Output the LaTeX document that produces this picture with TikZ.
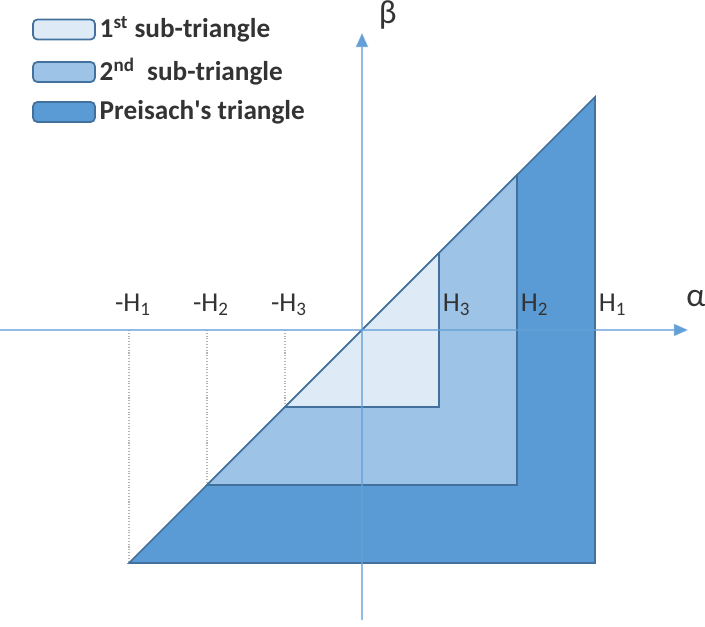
\documentclass[tikz,border=0pt]{standalone}
\usepackage{fontspec}
\setmainfont{Carlito}
\definecolor{tridark}{RGB}{91,155,213}
\definecolor{trimid}{RGB}{157,195,230}
\definecolor{trilight}{RGB}{222,235,247}
\definecolor{triedge}{RGB}{65,113,156}
\definecolor{axisblue}{RGB}{100,160,215}
\usetikzlibrary{arrows.meta,positioning}

\begin{document}
\begin{tikzpicture}[
  legbox/.style={draw=triedge, line width=1pt, rounded corners=2.5pt, minimum width=1.24cm, minimum height=0.4cm, inner sep=0pt},
  legtext/.style={font=\fontsize{15.5}{17}\selectfont\bfseries, text=black!80, anchor=west, inner sep=1pt},
  axlabel/.style={font=\fontsize{15.5}{17}\selectfont, text=black!80, inner sep=0pt},
  greeklabel/.style={font=\fontsize{19}{21}\selectfont, text=black!80, inner sep=0pt},
  tri/.style={draw=triedge, line width=0.9pt, line join=miter},
  axisline/.style={draw=axisblue, draw opacity=0.7, line width=0.6pt, -{Triangle[length=8pt,width=7pt]}},
  guide/.style={draw=gray!60, densely dotted, line width=0.6pt}]
  \useasboundingbox (-7.24,-5.94) rectangle (6.86,6.6);
  \def\hone{4.66}
  \def\htwo{3.1}
  \def\hthree{1.54}
  % dotted guides from the alpha axis
  \foreach \h/\k in {\hone/1,\htwo/2,\hthree/3} {
    \coordinate (gt\k) at (-\h,0);
    \coordinate (gb\k) at (-\h,-\h);
    \draw[guide] (gt\k) -- (gb\k);
  }
  % triangles, largest first
  \filldraw[tri, fill=tridark] (-\hone,-\hone) -- (\hone,\hone) -- (\hone,-\hone) -- cycle;
  \filldraw[tri, fill=trimid] (-\htwo,-\htwo) -- (\htwo,\htwo) -- (\htwo,-\htwo) -- cycle;
  \filldraw[tri, fill=trilight] (-\hthree,-\hthree) -- (\hthree,\hthree) -- (\hthree,-\hthree) -- cycle;
  % axes
  \coordinate (xl) at (-7.24,0);
  \coordinate (xr) at (6.52,0);
  \coordinate (yb) at (0,-5.8);
  \coordinate (yt) at (0,5.94);
  \draw[axisline] (xl) -- (xr);
  \draw[axisline] (yb) -- (yt);
  \node[greeklabel, anchor=base west] (alpha) at (6.48,0.46) {α};
  \node[greeklabel, anchor=base west] (beta) at (0.33,6.12) {β};
  % field labels
  \foreach \h/\k in {\hone/1,\htwo/2,\hthree/3} {
    \node[axlabel, anchor=base] (hm\k) at (-\h+0.08,0.36) {-H\textsubscript{\k}};
    \node[axlabel, anchor=base west] (hp\k) at (\h+0.07,0.36) {H\textsubscript{\k}};
  }
  % legend
  \node[legbox, fill=trilight] (box1) at (-5.96,6.01) {};
  \node[legbox, fill=trimid] (box2) at (-5.96,5.16) {};
  \node[legbox, fill=tridark] (box3) at (-5.96,4.36) {};
  \node[legtext, right=1pt of box1] (leg1) {1\textsuperscript{st} sub-triangle};
  \node[legtext, right=1pt of box2] (leg2) {2\textsuperscript{nd}\ \ sub-triangle};
  \node[legtext, right=1pt of box3] (leg3) {Preisach\textquotesingle s triangle};
\end{tikzpicture}
\end{document}
